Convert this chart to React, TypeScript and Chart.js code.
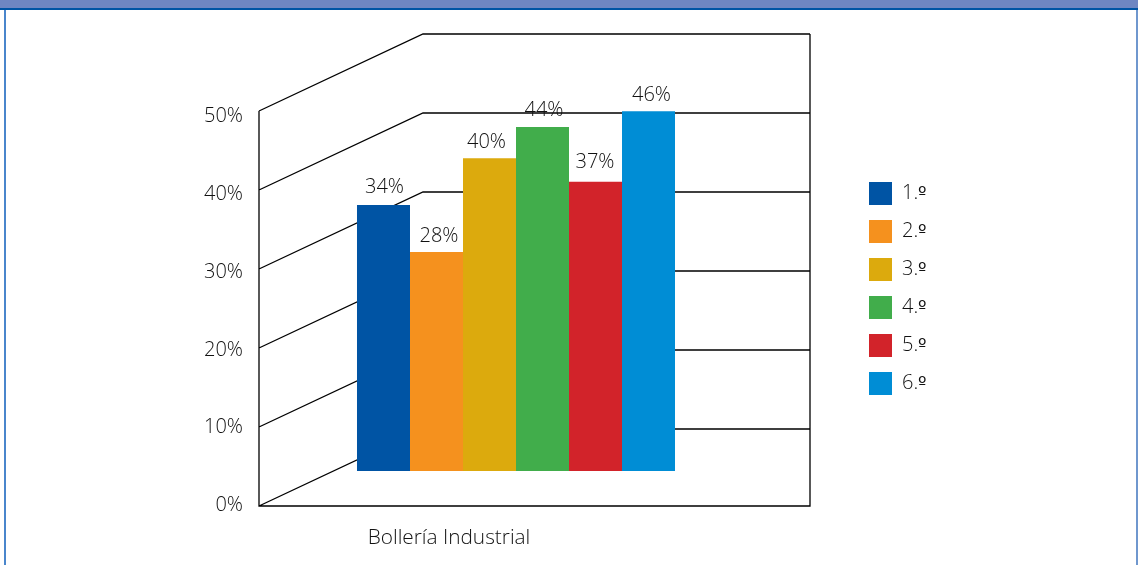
import React, { useEffect, useRef } from "react";
import { Chart, registerables } from "chart.js";

Chart.register(...registerables);

const categories = ["Bollería Industrial"];
const courses = ["1.º", "2.º", "3.º", "4.º", "5.º", "6.º"];
const percentages = [34, 28, 40, 44, 37, 46];
const courseColors = ["#0054A4", "#F5911E", "#DCAA0D", "#41AD4B", "#D2232A", "#008DD5"];
const wallTicks = [0, 10, 20, 30, 40, 50];

// Small hand adjustments that keep each caption clear of its neighbours.
const captionShiftX = [1, 2.5, -3, 1.5, -0.5, 3];
const captionShiftY = [-18, -16, -16, -17, -19, -16];

// The ordinal sign comes from DejaVu Sans, whose glyph has the underlined form.
const ORDINAL_FACE = `@font-face {
  font-family: "OrdinalSign";
  src: local("DejaVu Sans");
  unicode-range: U+00BA;
  size-adjust: 88%;
}`;

const FONT = '"Open Sans", "Noto Sans", sans-serif';
const TEXT = "#111111";
const LABEL_FONT = { family: FONT, size: 20, weight: "300" };

// Oblique frame: diagonal lines join the front edge to the back wall.
const framePlugin = {
  id: "obliqueFrame",
  beforeDatasetsDraw(chart: any) {
    const { ctx, scales } = chart;
    const front = scales.yFront;
    const back = scales.yBack;
    const frontX = 259;
    const backX = 423;
    const rightX = 810;
    ctx.save();
    ctx.strokeStyle = "#000000";
    ctx.lineWidth = 1.3;
    ctx.beginPath();
    wallTicks.forEach((t) => {
      const fy = front.getPixelForValue(t);
      const by = back.getPixelForValue(t);
      ctx.moveTo(frontX, fy);
      ctx.lineTo(backX, by);
      ctx.lineTo(rightX, by);
    });
    const topY = back.getPixelForValue(50);
    const bottomY = front.getPixelForValue(0);
    ctx.moveTo(frontX, front.getPixelForValue(50));
    ctx.lineTo(frontX, bottomY);
    ctx.lineTo(rightX, bottomY);
    ctx.lineTo(rightX, topY);
    ctx.stroke();
    ctx.restore();
  },
};

// Value captions above each column.
const valueLabels = {
  id: "valueLabels",
  afterDatasetsDraw(chart: any) {
    const { ctx } = chart;
    ctx.save();
    ctx.font = `300 20px ${FONT}`;
    ctx.fillStyle = TEXT;
    ctx.textAlign = "center";
    ctx.textBaseline = "middle";
    chart.data.datasets.forEach((ds: any, i: number) => {
      const bar = chart.getDatasetMeta(i).data[0];
      ctx.fillText(`${ds.data[0]}%`, bar.x + captionShiftX[i], bar.y + captionShiftY[i]);
    });
    ctx.restore();
  },
};

// The legend sits to the right of the frame, clear of the plot box.
const legendPlacement = {
  id: "legendPlacement",
  afterLayout(chart: any) {
    const lg = chart.legend;
    lg.left = 854;
    lg.top = 167;
    lg.right = 1138;
    lg.bottom = 565;
    lg.width = 284;
    lg.height = 398;
  },
};

export default function App() {
  const canvasRef = useRef<HTMLCanvasElement | null>(null);

  useEffect(() => {
    if (!canvasRef.current) return;
    const style = document.createElement("style");
    style.textContent = ORDINAL_FACE;
    document.head.appendChild(style);

    const chart = new Chart(canvasRef.current, {
      type: "bar",
      data: {
        labels: categories,
        datasets: courses.map((course, i) => ({
          label: course,
          data: [percentages[i]],
          backgroundColor: courseColors[i],
          yAxisID: "y",
          borderWidth: 0,
          barPercentage: 1,
          categoryPercentage: 0.6187,
        })),
      },
      options: {
        responsive: false,
        animation: false,
        events: [],
        layout: { padding: { left: 0, right: 365, top: 34, bottom: 0 } },
        plugins: {
          tooltip: { enabled: false },
          title: { display: false },
          legend: {
            position: "chartArea",
            align: "start",
            labels: {
              boxWidth: 23,
              boxHeight: 23,
              padding: 15,
              color: TEXT,
              font: { ...LABEL_FONT, family: `"OrdinalSign", ${FONT}` },
            },
          },
        },
        scales: {
          x: {
            offset: true,
            grid: { display: false },
            border: { display: false },
            ticks: {
              color: TEXT,
              font: { ...LABEL_FONT, size: 20.8 },
              labelOffset: -67,
              padding: 12,
              maxRotation: 0,
            },
            afterFit(axis: any) {
              axis.height = 59;
            },
          },
          // Column scale: its zero sits on the floor, partway between front and back.
          y: { display: false, min: -4.48, max: 55.88 },
          // Front edge of the frame.
          yFront: { display: false, min: 0, max: 59.75 },
          // Back wall of the frame.
          yBack: { display: false, min: -9.75, max: 50 },
          // Percentage labels beside the front edge.
          yLabels: {
            position: "left",
            min: -0.06,
            max: 60.63,
            grid: { display: false },
            border: { display: false },
            afterBuildTicks(axis: any) {
              axis.ticks = wallTicks.map((value) => ({ value }));
            },
            ticks: {
              color: TEXT,
              font: LABEL_FONT,
              padding: 8,
              callback: (v: any) => `${v}%`,
            },
            afterFit(axis: any) {
              axis.width = 259;
            },
          },
        },
      },
      plugins: [framePlugin, valueLabels, legendPlacement],
    } as any);

    let alive = true;
    document.fonts.load('300 20px "OrdinalSign"', "º").then(() => {
      if (alive) chart.update();
    });

    return () => {
      alive = false;
      chart.destroy();
      style.remove();
    };
  }, []);

  return (
    <div style={{ position: "absolute", left: 0, top: 0, width: 1138, height: 565, background: "#ffffff", overflow: "hidden" }}>
      <div style={{ position: "absolute", left: 0, top: 0, width: 1138, height: 8, background: "#6F86C2", borderBottom: "2px solid #0054A4" }} />
      <div style={{ position: "absolute", left: 4, top: 10, width: 2, height: 555, background: "#4A86CC" }} />
      <div style={{ position: "absolute", left: 1136, top: 10, width: 2, height: 555, background: "#6F97CE" }} />
      <canvas ref={canvasRef} width={1138} height={565} style={{ position: "absolute", left: 0, top: 0 }} />
    </div>
  );
}
